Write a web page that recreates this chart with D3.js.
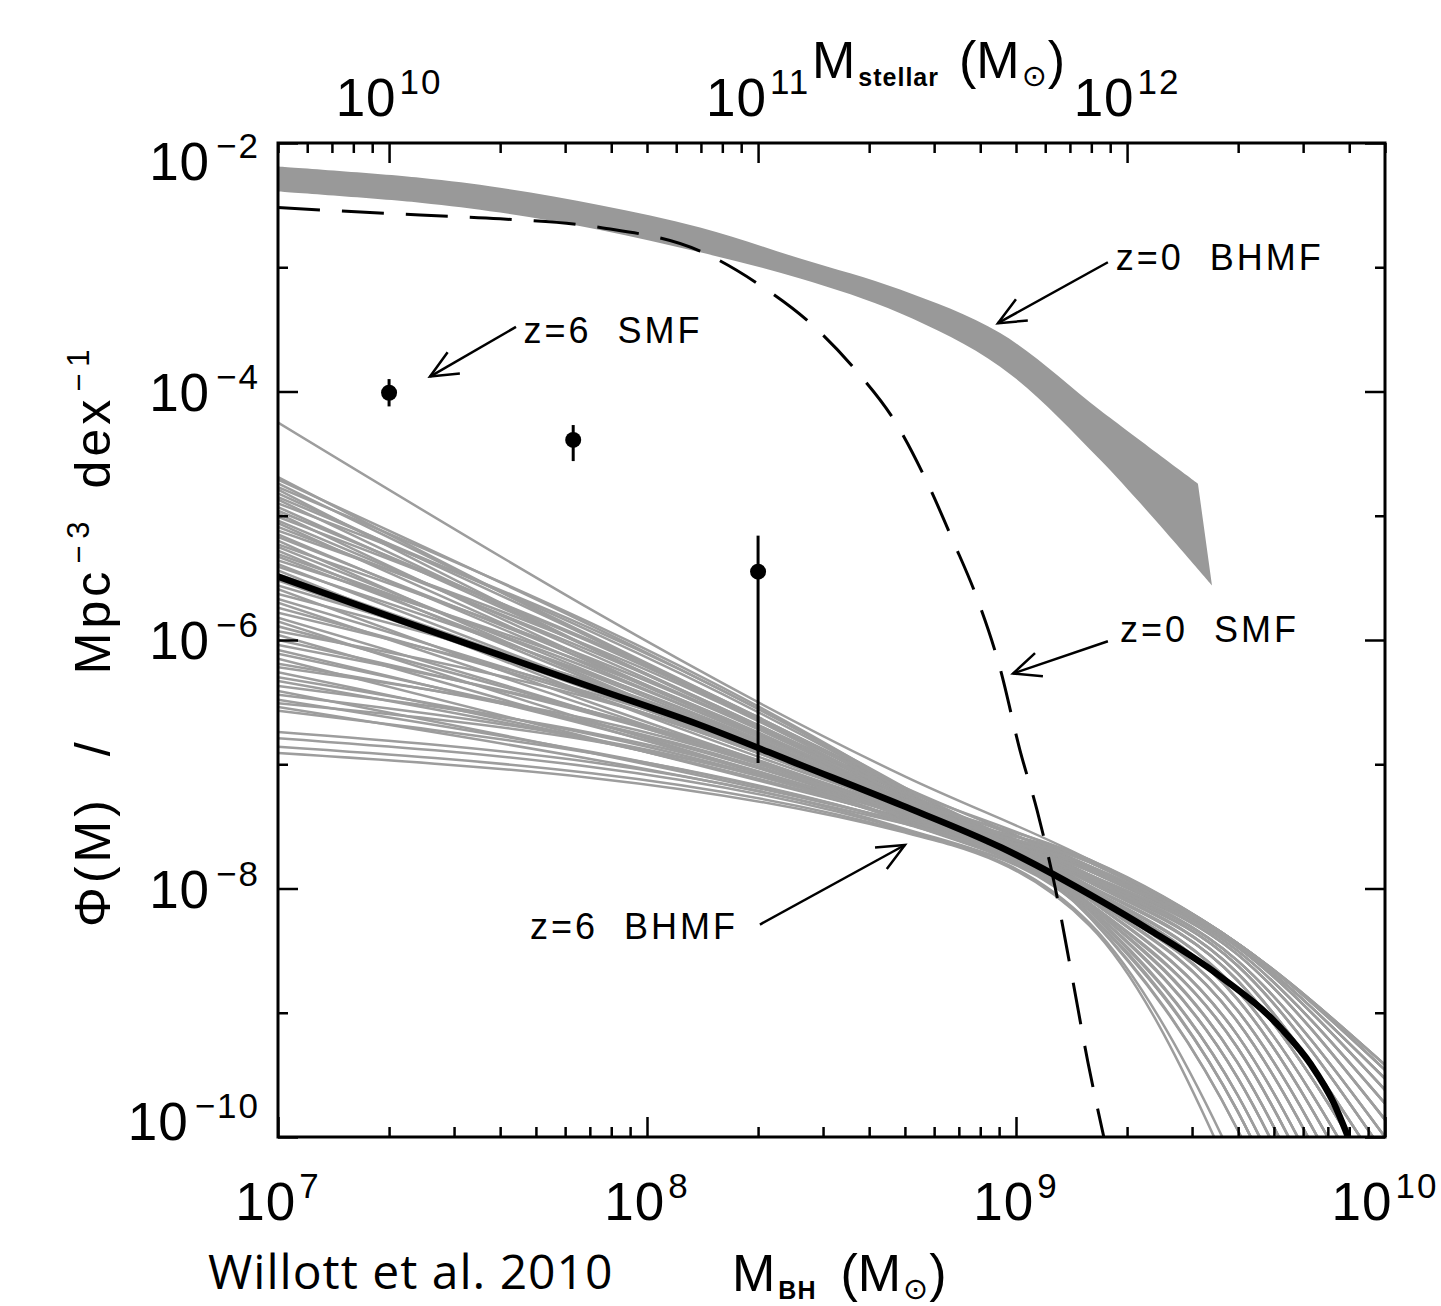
<!DOCTYPE html>
<html>
<head>
<meta charset="utf-8">
<script src="https://cdn.jsdelivr.net/npm/d3@7"></script>
<style>
  body { margin: 0; background: #fff; }
  svg { display: block; }
</style>
</head>
<body>
<div id="chart"></div>
<script>
// all values are log10

// z=0 BHMF grey band (upper and lower edges)
const band0HiM   = [7.0, 7.385, 7.602, 7.873, 8.144, 8.415, 8.686, 8.957, 9.228, 9.493];
const band0HiPhi = [-2.19, -2.28, -2.36, -2.50, -2.68, -2.93, -3.18, -3.53, -4.15, -4.74];
const band0LoM   = [7.0, 7.385, 7.602, 7.873, 8.144, 8.415, 8.686, 8.957, 9.228, 9.531];
const band0LoPhi = [-2.39, -2.48, -2.56, -2.70, -2.88, -3.09, -3.37, -3.80, -4.55, -5.56];

// z=0 SMF (dashed)
const smf0M   = [7.0, 7.385, 7.602, 7.873, 8.144, 8.314, 8.45, 8.569, 8.678, 8.759, 8.829, 8.894, 8.957, 9.011, 9.057, 9.106, 9.152, 9.195, 9.238];
const smf0Phi = [-2.52, -2.58, -2.61, -2.68, -2.87, -3.16, -3.47, -3.84, -4.27, -4.73, -5.20, -5.66, -6.23, -6.89, -7.37, -7.99, -8.71, -9.40, -10.0];

// z=6 SMF points with error bars
const smf6M   = [7.301, 7.8, 8.301];
const smf6Phi = [-4.01, -4.39, -5.45];
const smf6Hi  = [-3.90, -4.27, -5.16];
const smf6Lo  = [-4.12, -4.56, -6.99];

// z=6 BHMF best fit (thick black)
const bestM   = [7.0, 7.33, 7.6, 7.87, 8.14, 8.42, 8.69, 8.96, 9.23, 9.36, 9.55, 9.72, 9.80, 9.86, 9.90, 9.95];
const bestPhi = [-5.49, -5.84, -6.12, -6.40, -6.68, -7.01, -7.33, -7.67, -8.10, -8.33, -8.70, -9.13, -9.42, -9.72, -10.0, -10.4];

// z=6 BHMF realisations (thin grey), log Phi at these log M knots
const grayKnots = [7.0, 8.7, 9.2, 9.6, 10.0];
const grayLines = [
  [-4.25, -7.10, -7.77, -8.44, -9.42],
  [-4.69, -7.19, -7.84, -8.47, -9.62],
  [-4.71, -7.19, -8.05, -8.98, -11.05],
  [-4.74, -7.20, -7.93, -8.62, -10.14],
  [-4.77, -7.21, -8.18, -9.66, -12.41],
  [-4.79, -7.21, -7.79, -8.44, -9.46],
  [-4.82, -7.22, -8.00, -8.82, -10.66],
  [-4.85, -7.22, -8.12, -9.28, -11.69],
  [-4.87, -7.23, -7.89, -8.53, -9.86],
  [-4.90, -7.23, -8.23, -9.94, -12.92],
  [-4.93, -7.24, -7.95, -8.68, -10.31],
  [-4.96, -7.24, -8.07, -9.07, -11.25],
  [-4.98, -7.25, -7.82, -8.46, -9.53],
  [-5.01, -7.25, -8.16, -9.52, -12.16],
  [-5.04, -7.26, -7.98, -8.74, -10.48],
  [-5.06, -7.26, -7.86, -8.50, -9.73],
  [-5.09, -7.27, -8.09, -9.18, -11.47],
  [-5.12, -7.28, -8.21, -9.79, -12.66],
  [-5.15, -7.28, -7.91, -8.58, -10.00],
  [-5.17, -7.29, -8.02, -8.89, -10.85],
  [-5.20, -7.29, -7.77, -8.44, -9.42],
  [-5.23, -7.30, -8.14, -9.40, -11.92],
  [-5.25, -7.30, -7.93, -8.62, -10.14],
  [-5.28, -7.31, -7.84, -8.47, -9.62],
  [-5.31, -7.31, -8.05, -8.98, -11.05],
  [-5.33, -7.32, -7.98, -8.74, -10.48],
  [-5.36, -7.32, -8.18, -9.66, -12.41],
  [-5.39, -7.33, -7.89, -8.53, -9.86],
  [-5.41, -7.33, -8.09, -9.18, -11.47],
  [-5.44, -7.34, -7.79, -8.44, -9.46],
  [-5.47, -7.35, -8.00, -8.82, -10.66],
  [-5.52, -7.35, -7.95, -8.68, -10.31],
  [-5.56, -7.36, -8.12, -9.28, -11.69],
  [-5.59, -7.36, -7.82, -8.46, -9.53],
  [-5.63, -7.37, -8.21, -9.79, -12.66],
  [-5.67, -7.37, -8.02, -8.89, -10.85],
  [-5.70, -7.38, -7.86, -8.50, -9.73],
  [-5.74, -7.38, -8.07, -9.07, -11.25],
  [-5.78, -7.38, -8.16, -9.52, -12.16],
  [-5.82, -7.39, -7.91, -8.58, -10.00],
  [-5.85, -7.39, -7.77, -8.44, -9.42],
  [-5.89, -7.40, -7.98, -8.74, -10.48],
  [-5.93, -7.40, -8.23, -9.94, -12.92],
  [-5.96, -7.41, -7.84, -8.47, -9.62],
  [-6.00, -7.41, -8.05, -8.98, -11.05],
  [-6.04, -7.42, -8.14, -9.40, -11.92],
  [-6.08, -7.42, -7.93, -8.62, -10.14],
  [-6.11, -7.42, -8.00, -8.82, -10.66],
  [-6.15, -7.43, -7.79, -8.44, -9.46],
  [-6.19, -7.43, -8.09, -9.18, -11.47],
  [-6.22, -7.44, -8.18, -9.66, -12.41],
  [-6.26, -7.44, -7.89, -8.53, -9.86],
  [-6.30, -7.45, -8.02, -8.89, -10.85],
  [-6.33, -7.45, -7.95, -8.68, -10.31],
  [-6.37, -7.46, -8.12, -9.28, -11.69],
  [-6.41, -7.46, -7.82, -8.46, -9.53],
  [-6.44, -7.46, -8.07, -9.07, -11.25],
  [-6.48, -7.47, -7.91, -8.58, -10.00],
  [-6.51, -7.47, -8.16, -9.52, -12.16],
  [-6.54, -7.48, -7.86, -8.50, -9.73],
  [-6.57, -7.48, -7.98, -8.74, -10.48],
  [-6.74, -7.52, -8.21, -9.79, -12.66],
  [-6.79, -7.53, -8.28, -10.26, -13.46],
  [-6.86, -7.54, -8.14, -9.40, -11.92],
  [-6.91, -7.55, -8.30, -10.42, -13.74]
];

// axis ticks (exponents)
const xMajorExp  = [7, 8, 9, 10];
const topMajorExp = [10, 11, 12];
const yMajorExp  = [-10, -8, -6, -4, -2];
const yMinorExp  = [-9, -7, -5, -3];

// annotations: label position and arrow (tail -> head), log units
const notes = [
  { text: 'z=0  BHMF', m: 9.270, phi: -3.02, from: [9.249, -2.96], to: [8.951, -3.45] },
  { text: 'z=6  SMF',  m: 7.665, phi: -3.61, from: [7.645, -3.48], to: [7.412, -3.88] },
  { text: 'z=0  SMF',  m: 9.282, phi: -6.02, from: [9.249, -6.01], to: [8.992, -6.27] },
  { text: 'z=6  BHMF', m: 7.683, phi: -8.41, from: [8.306, -8.29], to: [8.699, -7.65] }
];

// ---- layout ----
const W = 1441, H = 1306;
const frame = { left: 278, right: 1385, top: 143, bottom: 1137 };
const p10 = v => Math.pow(10, v);

const svg = d3.select('#chart')
  .append('svg')
  .attr('width', W)
  .attr('height', H)
  .style('font-family', '"Liberation Sans", Arial, Helvetica, sans-serif');

const x = d3.scaleLog().domain([1e7, 1e10]).range([frame.left, frame.right]);
// top axis: stellar mass = 500 x black hole mass
const xTop = d3.scaleLog().domain([5e9, 5e12]).range([frame.left, frame.right]);
const y = d3.scaleLog().domain([1e-10, 1e-2]).range([frame.bottom, frame.top]);

svg.append('clipPath').attr('id', 'plot-clip')
  .append('rect')
  .attr('x', frame.left).attr('y', frame.top)
  .attr('width', frame.right - frame.left)
  .attr('height', frame.bottom - frame.top);

const plot = svg.append('g').attr('clip-path', 'url(#plot-clip)');

const logLine = d3.line()
  .x(d => x(p10(d[0])))
  .y(d => y(p10(d[1])));

// z=0 BHMF band
const bandData = band0HiM.map((m, i) => [band0LoM[i], band0LoPhi[i], m, band0HiPhi[i]]);
plot.append('path')
  .attr('d', d3.area()
    .curve(d3.curveCatmullRom)
    .x0(d => x(p10(d[0]))).y0(d => y(p10(d[1])))
    .x1(d => x(p10(d[2]))).y1(d => y(p10(d[3])))(bandData))
  .attr('fill', '#999');

// z=6 BHMF realisations
plot.append('g')
  .selectAll('path')
  .data(grayLines)
  .join('path')
  .attr('d', row => logLine.curve(d3.curveMonotoneX)(d3.zip(grayKnots, row)))
  .attr('fill', 'none')
  .attr('stroke', '#9d9d9d')
  .attr('stroke-width', 2.5);

// best fit
plot.append('path')
  .attr('d', logLine.curve(d3.curveMonotoneX)(d3.zip(bestM, bestPhi)))
  .attr('fill', 'none')
  .attr('stroke', '#000')
  .attr('stroke-width', 6.5);

// z=0 SMF dashed
plot.append('path')
  .attr('d', logLine.curve(d3.curveMonotoneX)(d3.zip(smf0M, smf0Phi)))
  .attr('fill', 'none')
  .attr('stroke', '#000')
  .attr('stroke-width', 3)
  .attr('stroke-dasharray', '42 22');

// z=6 SMF points
const pts = plot.append('g');
pts.selectAll('line')
  .data(smf6M)
  .join('line')
  .attr('x1', d => x(p10(d))).attr('x2', d => x(p10(d)))
  .attr('y1', (d, i) => y(p10(smf6Hi[i])))
  .attr('y2', (d, i) => y(p10(smf6Lo[i])))
  .attr('stroke', '#000')
  .attr('stroke-width', 3);
pts.selectAll('circle')
  .data(smf6M)
  .join('circle')
  .attr('cx', d => x(p10(d)))
  .attr('cy', (d, i) => y(p10(smf6Phi[i])))
  .attr('r', 8)
  .attr('fill', '#000');

// ---- ticks ----
function tickSet(axisFn, scale, values, size, transform) {
  svg.append('g')
    .attr('transform', transform)
    .call(axisFn(scale).tickValues(values).tickSize(size).tickFormat(''))
    .call(g => g.select('.domain').remove())
    .call(g => g.selectAll('line').attr('stroke', '#000').attr('stroke-width', 2.5));
}

const xMajor = xMajorExp.map(p10);
const xMinor = x.ticks().filter(v => !xMajor.some(m => Math.abs(m - v) / m < 1e-6));
const topMajor = topMajorExp.map(p10);
const topMinor = xTop.ticks().filter(v => !topMajor.some(m => Math.abs(m - v) / m < 1e-6));
const yMajor = yMajorExp.map(p10);
const yMinor = yMinorExp.map(p10);

tickSet(d3.axisTop, x, xMajor, 20, `translate(0,${frame.bottom})`);
tickSet(d3.axisTop, x, xMinor, 10, `translate(0,${frame.bottom})`);
tickSet(d3.axisBottom, xTop, topMajor, 20, `translate(0,${frame.top})`);
tickSet(d3.axisBottom, xTop, topMinor, 10, `translate(0,${frame.top})`);
tickSet(d3.axisRight, y, yMajor, 20, `translate(${frame.left},0)`);
tickSet(d3.axisRight, y, yMinor, 10, `translate(${frame.left},0)`);
tickSet(d3.axisLeft, y, yMajor, 20, `translate(${frame.right},0)`);
tickSet(d3.axisLeft, y, yMinor, 10, `translate(${frame.right},0)`);

// frame
svg.append('rect')
  .attr('x', frame.left).attr('y', frame.top)
  .attr('width', frame.right - frame.left)
  .attr('height', frame.bottom - frame.top)
  .attr('fill', 'none')
  .attr('stroke', '#000')
  .attr('stroke-width', 3);

// ---- tick labels ----
function powerLabel(sel, exp, supShift, gap) {
  sel.append('tspan').style('letter-spacing', '1px').text('10');
  sel.append('tspan')
    .attr('dy', supShift)
    .attr('dx', gap)
    .style('font-size', '35px')
    .style('letter-spacing', '2px')
    .text(String(exp).replace('-', '\u2212'));
}

svg.append('g')
  .selectAll('text')
  .data(xMajorExp)
  .join('text')
  .attr('x', d => x(p10(d)))
  .attr('y', 1220)
  .attr('text-anchor', 'middle')
  .style('font-size', '53px')
  .each(function(d) { powerLabel(d3.select(this), d, -22, 3); });

svg.append('g')
  .selectAll('text')
  .data(topMajorExp)
  .join('text')
  .attr('x', d => xTop(p10(d)))
  .attr('y', 116)
  .attr('text-anchor', 'middle')
  .style('font-size', '53px')
  .each(function(d) { powerLabel(d3.select(this), d, -22, 3); });

svg.append('g')
  .selectAll('text')
  .data(yMajorExp)
  .join('text')
  .attr('x', 260)
  .attr('y', d => Math.min(Math.max(y(p10(d)) + 19, 180), 1140))
  .attr('text-anchor', 'end')
  .style('font-size', '53px')
  .each(function(d) { powerLabel(d3.select(this), d, -22, 6); });

// ---- axis titles ----
const sun = '\u2299';

function massTitle(px, py, sub, subGap) {
  const t = svg.append('text')
    .attr('x', px).attr('y', py)
    .style('font-size', '52px');
  t.append('tspan').text('M');
  t.append('tspan').attr('dy', 8).attr('dx', 3)
    .style('font-size', '25px').style('font-weight', 'bold').style('letter-spacing', '1px')
    .text(sub);
  t.append('tspan').attr('dy', -8).attr('dx', subGap).text('(M');
  t.append('tspan').attr('dy', 8).attr('dx', 2)
    .style('font-size', '30px').style('font-family', '"DejaVu Sans"').text(sun);
  t.append('tspan').attr('dy', -8).attr('dx', 1).text(')');
}
massTitle(732, 1291, 'BH', 24);
massTitle(812, 78, 'stellar', 20);

const yTitle = svg.append('text')
  .attr('transform', 'translate(110,927) rotate(-90)')
  .style('font-size', '50px')
  .style('letter-spacing', '4px');
yTitle.append('tspan').text('\u03A6(M)');
yTitle.append('tspan').attr('dx', 40).text('/');
yTitle.append('tspan').attr('dx', 64).text('Mpc');
yTitle.append('tspan').attr('dy', -21).attr('dx', 4).style('font-size', '31px').style('letter-spacing', '7px').text('\u22123');
yTitle.append('tspan').attr('dy', 21).attr('dx', 26).text('dex');
yTitle.append('tspan').attr('dy', -21).attr('dx', 4).style('font-size', '31px').style('letter-spacing', '7px').text('\u22121');

// ---- annotations ----
const ann = svg.append('g');
ann.selectAll('text')
  .data(notes)
  .join('text')
  .attr('x', d => x(p10(d.m)))
  .attr('y', d => y(p10(d.phi)))
  .style('font-size', '36px')
  .style('letter-spacing', '3px')
  .style('white-space', 'pre')
  .text(d => d.text);

notes.forEach(n => {
  const x1 = x(p10(n.from[0])), y1 = y(p10(n.from[1]));
  const x2 = x(p10(n.to[0])), y2 = y(p10(n.to[1]));
  const ang = Math.atan2(y1 - y2, x1 - x2);
  const hl = 30, spread = 0.42;
  const g = ann.append('g').attr('stroke', '#000').attr('stroke-width', 2.5).attr('fill', 'none');
  g.append('line').attr('x1', x1).attr('y1', y1).attr('x2', x2).attr('y2', y2);
  g.append('path').attr('d', d3.line()([
    [x2 + hl * Math.cos(ang + spread), y2 + hl * Math.sin(ang + spread)],
    [x2, y2],
    [x2 + hl * Math.cos(ang - spread), y2 + hl * Math.sin(ang - spread)]
  ]));
});

// credit
svg.append('text')
  .attr('x', 208).attr('y', 1289)
  .style('font-family', '"Open Sans", "Noto Sans", sans-serif')
  .style('font-size', '48px')
  .style('letter-spacing', '1px')
  .text('Willott et al. 2010');
</script>
</body>
</html>
